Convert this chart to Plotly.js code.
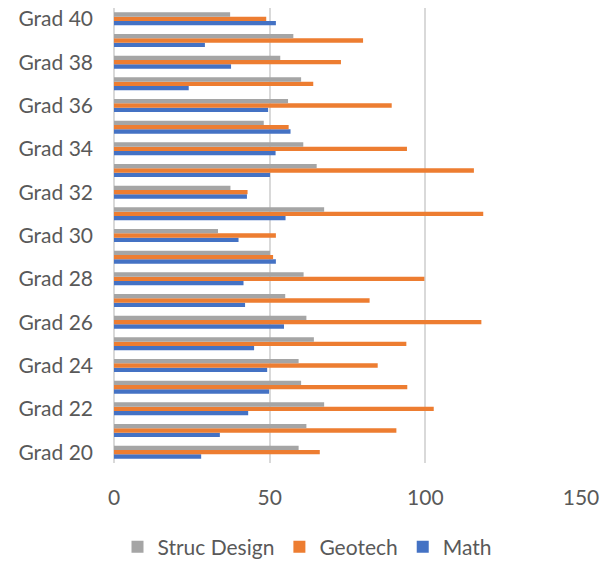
<!DOCTYPE html>
<html>
<head>
<meta charset="utf-8">
<script src="https://cdn.plot.ly/plotly-3.0.1.min.js"></script>
<style>html,body{margin:0;padding:0;background:#fff;}#chart{width:614px;height:561px;}</style>
</head>
<body>
<div id="chart"></div>
<script>
const categories = ["Grad 20","Grad 21","Grad 22","Grad 23","Grad 24","Grad 25","Grad 26","Grad 27","Grad 28","Grad 29","Grad 30","Grad 31","Grad 32","Grad 33","Grad 34","Grad 35","Grad 36","Grad 37","Grad 38","Grad 39","Grad 40"];
const mathVals = [28.0,34.0,43.1,49.8,49.2,45.0,54.6,42.1,41.6,52.0,40.0,55.1,42.7,50.1,51.9,56.7,49.5,24.0,37.6,29.2,52.0];
const geotechVals = [66.1,90.7,102.7,94.2,84.7,93.9,118.0,82.1,99.7,51.1,52.0,118.6,42.9,115.6,94.1,56.1,89.2,64.0,72.9,80.0,48.9];
const strucVals = [59.3,61.8,67.5,60.1,59.3,64.2,61.8,55.0,60.9,50.1,33.4,67.5,37.4,65.1,60.8,48.1,55.9,60.1,53.4,57.6,37.3];
const yTickLabels = ["Grad 20","Grad 22","Grad 24","Grad 26","Grad 28","Grad 30","Grad 32","Grad 34","Grad 36","Grad 38","Grad 40"];
const xTicks = [0,50,100,150];

const traces = [
  {type:'bar', orientation:'h', name:'Math', y:categories, x:mathVals, marker:{color:'#4472C4'}},
  {type:'bar', orientation:'h', name:'Geotech', y:categories, x:geotechVals, marker:{color:'#ED7D31'}},
  {type:'bar', orientation:'h', name:'Struc Design', y:categories, x:strucVals, marker:{color:'#A5A5A5'}}
];
const layout = {
  width:614, height:561,
  margin:{l:114, r:33, t:8, b:98, autoexpand:false},
  paper_bgcolor:'#fff', plot_bgcolor:'#fff',
  font:{family:'Lato, "Open Sans", sans-serif', size:21, color:'#595959'},
  barmode:'group', bargap:0.4, bargroupgap:0,
  xaxis:{range:[0,150], tickvals:xTicks, showgrid:true, gridcolor:'#d9d9d9', gridwidth:2, zeroline:true, zerolinecolor:'#d9d9d9', zerolinewidth:2, showline:false, ticks:'', ticklabelstandoff:20, fixedrange:true, automargin:false},
  yaxis:{type:'category', categoryorder:'array', categoryarray:categories, tickvals:yTickLabels, ticktext:yTickLabels, showgrid:false, zeroline:false, showline:false, ticks:'', ticklabelstandoff:20, fixedrange:true, automargin:false},
  showlegend:true,
  legend:{orientation:'h', traceorder:'reversed', x:0.5, xanchor:'center', xref:'container', yref:'container', y:0.025, yanchor:'middle', font:{size:21, color:'#595959'}, itemwidth:30}
};
Plotly.newPlot('chart', traces, layout, {displayModeBar:false, staticPlot:true});
</script>
</body>
</html>
